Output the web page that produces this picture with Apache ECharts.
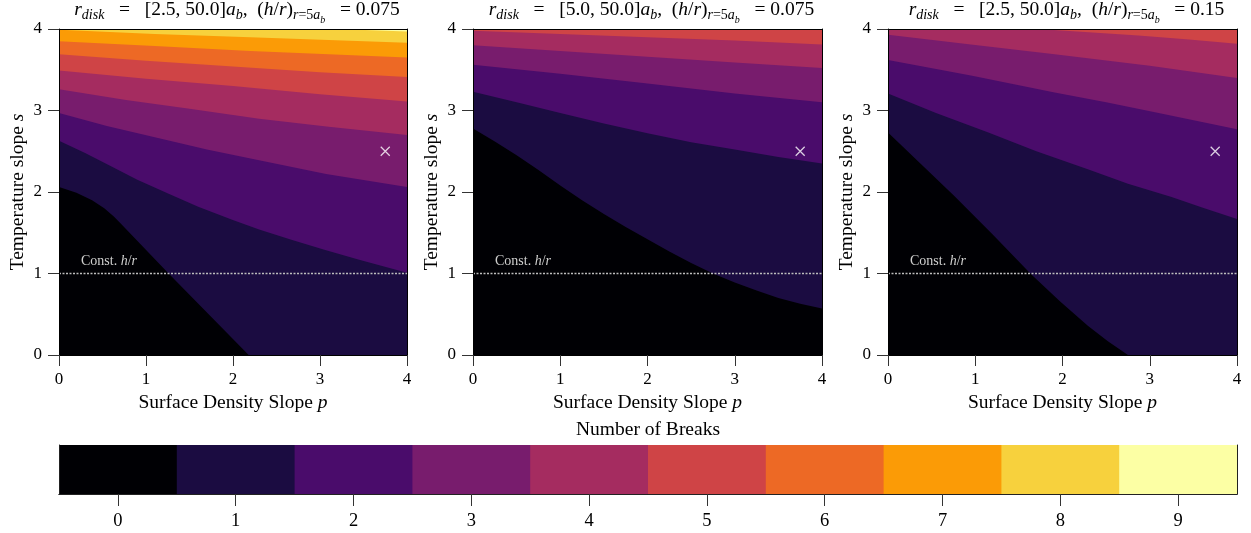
<!DOCTYPE html>
<html><head><meta charset="utf-8">
<script src="https://cdn.jsdelivr.net/npm/echarts@6/dist/echarts.min.js"></script>
<style>html,body{margin:0;padding:0;background:#fff}#c{width:1251px;height:533px}</style>
</head><body><div id="c"></div>
<script>
// ---- data ----
const LEVELS = [0,1,2,3,4,5,6,7,8,9];
const INFERNO = ['#000004','#1b0c41','#4a0c6b','#781c6d','#a52c60','#cf4446','#ed6925','#fb9b06','#f7d13d','#fcffa4'];
const X_TICKS = [0,1,2,3,4];
const Y_TICKS = [0,1,2,3,4];
const RDISK_IN = ['2.5','5.0','2.5'];
const RDISK_OUT = ['50.0','50.0','50.0'];
const HR = ['0.075','0.075','0.15'];
const CONST_HR_S = 1;
const MARKER = [3.75, 2.5];

// boundary between level k-1 and k, as [p, s] points
const P1_B1 = [[0,2.06],[0.2,1.99],[0.38,1.90],[0.52,1.80],[0.63,1.70],[0.72,1.60],[1.26,1.0],[2.18,0]];
const P1_B2 = [[0,2.63],[0.3,2.48],[0.57,2.33],[0.9,2.15],[1.26,1.98],[1.6,1.82],[1.99,1.66],[2.3,1.54],[2.68,1.41],[3.05,1.29],[3.45,1.17],[4,1.01]];
const P1_B3 = [[0,2.97],[0.55,2.81],[1.15,2.66],[1.7,2.52],[2.3,2.39],[3.07,2.22],[4,2.06]];
const P1_B4 = [[0,3.26],[0.77,3.13],[1.5,3.02],[2.3,2.90],[3.1,2.80],[4,2.70]];
const P1_B5 = [[0,3.49],[1,3.39],[2,3.30],[3,3.20],[4,3.11]];
const P1_B6 = [[0,3.69],[1,3.61],[2,3.54],[3,3.47],[4,3.41]];
const P1_B7 = [[0,3.85],[1.1,3.79],[2.2,3.73],[4,3.65]];
const P1_B8 = [[0,3.99],[1.1,3.94],[2.2,3.90],[4,3.83]];
const P1_B9 = [[3.2,4],[4,3.97]];

const P2_B1 = [[0,2.78],[0.25,2.62],[0.5,2.45],[0.75,2.27],[1,2.08],[1.25,1.90],[1.5,1.73],[1.75,1.57],[2,1.42],[2.25,1.27],[2.5,1.13],[2.75,1.00],[3,0.89],[3.25,0.79],[3.5,0.70],[3.75,0.63],[4,0.57]];
const P2_B2 = [[0,3.23],[0.5,3.10],[1,2.97],[1.5,2.84],[2,2.72],[2.5,2.61],[3,2.52],[3.5,2.43],[4,2.35]];
const P2_B3 = [[0,3.56],[1,3.45],[2,3.33],[3,3.21],[4,3.10]];
const P2_B4 = [[0,3.80],[1,3.73],[2,3.66],[3,3.59],[4,3.52]];
const P2_B5 = [[0,3.98],[1,3.94],[2,3.90],[3,3.86],[4,3.81]];

const P3_B1 = [[0,2.73],[0.38,2.34],[0.76,1.95],[1.2,1.48],[1.64,0.99],[1.97,0.66],[2.29,0.36],[2.52,0.17],[2.75,0]];
const P3_B2 = [[0,3.21],[0.55,2.97],[1.15,2.73],[1.7,2.50],[2.29,2.28],[2.75,2.10],[3.25,1.94],[3.6,1.81],[4,1.67]];
const P3_B3 = [[0,3.62],[0.95,3.43],[1.91,3.22],[2.5,3.10],[3.06,2.98],[4,2.77]];
const P3_B4 = [[0,3.93],[0.95,3.81],[1.91,3.69],[3,3.55],[4,3.40]];
const P3_B5 = [[1.72,4],[2.3,3.96],[2.87,3.92],[3.45,3.87],[4,3.82]];

const FULL = [[0,0],[4,0]];
const PANELS = [
  [FULL,P1_B1,P1_B2,P1_B3,P1_B4,P1_B5,P1_B6,P1_B7,P1_B8,P1_B9],
  [FULL,P2_B1,P2_B2,P2_B3,P2_B4,P2_B5],
  [FULL,P3_B1,P3_B2,P3_B3,P3_B4,P3_B5]
];

// ---- layout ----
const FONT = 'Liberation Serif';
const GRIDS = [
  {left:59, top:29, width:348, height:326},
  {left:473, top:29, width:349, height:326},
  {left:888, top:29, width:349, height:326}
];
const CB = {left:59, top:445, width:1178, height:49};

function polygonFor(b){
  const pts = b.map(v=>v.slice());
  const last = pts[pts.length-1];
  if (last[0] < 4 && last[1] === 0) pts.push([4,0]);
  pts.push([4,4]);
  const first = pts[0];
  if (!(first[1] === 4)) pts.push([0,4]);
  return pts;
}

const TS = 19.5;
const rich = {
  n:{fontFamily:FONT,fontSize:TS,color:'#000',lineHeight:26,verticalAlign:'middle'},
  i:{fontFamily:FONT,fontSize:TS,fontStyle:'italic',color:'#000',lineHeight:26,verticalAlign:'middle'},
  sub:{fontFamily:FONT,fontSize:14,fontStyle:'italic',color:'#000',lineHeight:26,verticalAlign:'bottom',padding:[0,0,1,0]},
  subn:{fontFamily:FONT,fontSize:14,color:'#000',lineHeight:26,verticalAlign:'bottom',padding:[0,0,1,0]},
  sub2:{fontFamily:FONT,fontSize:10,fontStyle:'italic',color:'#000',lineHeight:26,verticalAlign:'bottom',padding:[0,0,-2,0]}
};
function titleText(k){
  return '{i|r}{sub|disk}{n|   =   [' + RDISK_IN[k] + ', ' + RDISK_OUT[k] + ']}{i|a}{sub|b}{n|,  (}{i|h}{n|/}{i|r}{n|)}{sub|r}{subn|=5}{sub|a}{sub2|b}{n|   = ' + HR[k] + '}';
}

const option = {
  animation:false,
  backgroundColor:'#fff',
  title: GRIDS.map((g,k)=>({
    text: titleText(k),
    left: g.left + g.width/2 + 4, top: -3, textAlign:'center', padding:0,
    textStyle:{rich: rich, fontFamily:FONT, fontSize:TS, fontWeight:'normal'}
  })),
  grid: GRIDS.concat([CB]),
  xAxis: [],
  yAxis: [],
  series: []
};

const axisLabel = {fontFamily:FONT, fontSize:17, color:'#000'};
const nameRich = {
  n:{fontFamily:FONT,fontSize:19.5,color:'#000'},
  i:{fontFamily:FONT,fontSize:19.5,fontStyle:'italic',color:'#000'}
};

GRIDS.forEach((g,k)=>{
  option.xAxis.push({
    type:'value', gridIndex:k, min:0, max:4, interval:1, position:'bottom', z:10,
    axisLine:{show:true, onZero:false, lineStyle:{color:'#000', width:1}},
    axisTick:{show:true, inside:false, length:11, lineStyle:{color:'#333'}},
    axisLabel:Object.assign({margin:16, formatter:v=>X_TICKS.includes(v)?String(v):''}, axisLabel),
    splitLine:{show:false},
    name:'{n|Surface Density Slope }{i|p}', nameLocation:'middle', nameGap:37,
    nameTextStyle:{rich:nameRich}
  });
  option.xAxis.push({
    type:'value', gridIndex:k, min:0, max:4, position:'top', z:10,
    axisLine:{show:true, onZero:false, lineStyle:{color:'#000', width:1}},
    axisTick:{show:false}, axisLabel:{show:false}, splitLine:{show:false}
  });
  option.yAxis.push({
    type:'value', gridIndex:k, min:0, max:4, interval:1, position:'left', z:10,
    axisLine:{show:true, onZero:false, lineStyle:{color:'#000', width:1}},
    axisTick:{show:true, inside:false, length:11, lineStyle:{color:'#333'}},
    axisLabel:Object.assign({margin:17, formatter:v=>Y_TICKS.includes(v)?String(v):''}, axisLabel),
    splitLine:{show:false},
    name:'{n|Temperature slope }{i|s}', nameLocation:'middle', nameGap:31,
    nameTextStyle:{rich:nameRich}
  });
  option.yAxis.push({
    type:'value', gridIndex:k, min:0, max:4, position:'right', z:10,
    axisLine:{show:true, onZero:false, lineStyle:{color:'#000', width:1}},
    axisTick:{show:false}, axisLabel:{show:false}, splitLine:{show:false}
  });
  const bounds = PANELS[k];
  option.series.push({
    type:'custom', xAxisIndex:2*k, yAxisIndex:2*k, z:2,
    data: bounds.map((b,i)=>[LEVELS[i]]),
    encode:{x:-1, y:-1},
    renderItem:(params, api)=>{
      const lvl = api.value(0);
      const pts = polygonFor(bounds[lvl]).map(p=>api.coord(p));
      return {type:'polygon', shape:{points:pts}, style:{fill:INFERNO[lvl]}};
    },
    silent:true
  });
  option.series.push({
    type:'line', xAxisIndex:2*k, yAxisIndex:2*k, z:4, symbol:'none', silent:true,
    data:[[0,CONST_HR_S],[4,CONST_HR_S]],
    lineStyle:{color:'#bdbdbd', width:1.4, type:[2,1.5]}
  });
  option.series.push({
    type:'scatter', xAxisIndex:2*k, yAxisIndex:2*k, z:5, silent:true,
    symbol:'path://M0,0L10,10M10,0L0,10', symbolSize:9,
    itemStyle:{color:'rgba(0,0,0,0)', borderColor:'#fff', borderWidth:1.3},
    data:[MARKER]
  });
});

// colorbar
option.xAxis.push({
  type:'category', gridIndex:3, data:LEVELS.map(String), boundaryGap:true, position:'bottom', z:10,
  axisLine:{show:true, lineStyle:{color:'#222', width:1}},
  axisTick:{show:true, alignWithLabel:true, inside:false, length:12, lineStyle:{color:'#333'}},
  axisLabel:{fontFamily:FONT, fontSize:18.5, color:'#000', margin:18},
  splitLine:{show:false}
});
option.xAxis.push({
  type:'category', gridIndex:3, data:LEVELS.map(String), position:'top', z:10,
  axisLine:{show:true, lineStyle:{color:'#222', width:1}},
  axisTick:{show:false}, axisLabel:{show:false}, splitLine:{show:false},
  name:'Number of Breaks', nameLocation:'middle', nameGap:5,
  nameTextStyle:{fontFamily:FONT, fontSize:19.5, color:'#000'}
});
option.yAxis.push({
  type:'value', gridIndex:3, min:0, max:1, position:'left', z:10,
  axisLine:{show:true, lineStyle:{color:'#222', width:1}},
  axisTick:{show:false}, axisLabel:{show:false}, splitLine:{show:false}
});
option.yAxis.push({
  type:'value', gridIndex:3, min:0, max:1, position:'right', z:10,
  axisLine:{show:true, lineStyle:{color:'#222', width:1}},
  axisTick:{show:false}, axisLabel:{show:false}, splitLine:{show:false}
});
option.series.push({
  type:'custom', xAxisIndex:6, yAxisIndex:6, silent:true, z:2,
  data: LEVELS.map(l=>[l, 1]),
  encode:{x:0, y:1},
  renderItem:(params, api)=>{
    const lvl = api.value(0);
    const c = api.coord([lvl, 1]);
    const base = api.coord([lvl, 0]);
    const w = api.size([1, 0])[0];
    const extra = lvl < LEVELS.length-1 ? 1 : 0;
    return {type:'rect', shape:{x:c[0]-w/2, y:c[1], width:w+extra, height:base[1]-c[1]},
            style:{fill:INFERNO[lvl]}};
  }
});

// "Const. h/r" labels
option.graphic = GRIDS.map(g=>({
  type:'text', left:g.left+22, top:g.top+326-88-13, z:20,
  style:{rich:{n:{fontFamily:FONT,fontSize:14,fill:'#cfcfcf'},i:{fontFamily:FONT,fontSize:14,fontStyle:'italic',fill:'#cfcfcf'}},
         text:'{n|Const. }{i|h}{n|/}{i|r}', fill:'#cfcfcf'}
}));

const chart = echarts.init(document.getElementById('c'), null, {renderer:'canvas'});
chart.setOption(option);
</script></body></html>
